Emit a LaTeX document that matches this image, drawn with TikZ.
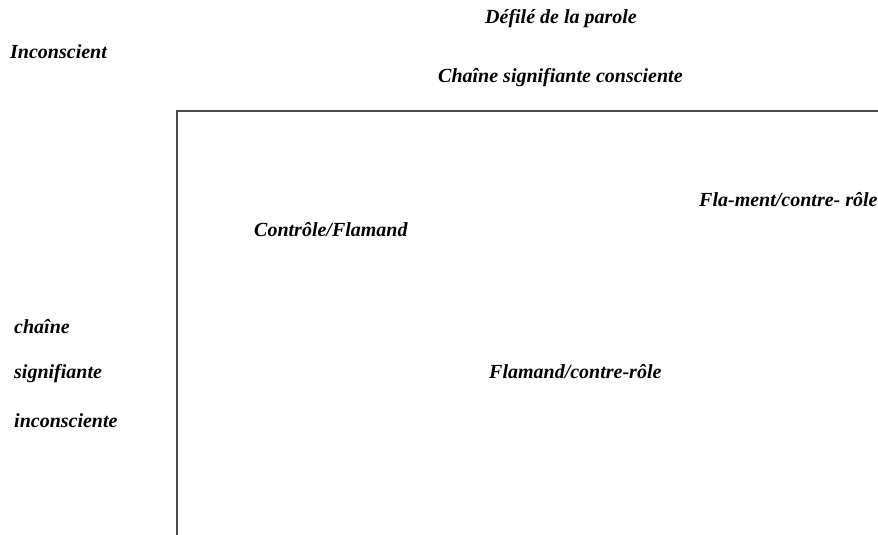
\documentclass[tikz,border=0pt]{standalone}
\usepackage{fontspec}
\setmainfont{Liberation Serif}
\begin{document}
\begin{tikzpicture}[x=1pt,y=-1pt,
  lbl/.style={font=\fontsize{20}{22}\selectfont\bfseries\itshape, inner sep=0pt, anchor=west},
  frame/.style={draw=black!70, line width=1.3pt}]
\useasboundingbox (0,0) rectangle (878,535);
\node[lbl] (defile) at (485,19) {Défilé de la parole};
\node[lbl] (incons) at (10,52) {Inconscient};
\node[lbl] (chcons) at (438,78) {Chaîne signifiante consciente};
\node[lbl] (flament) at (699,200) {Fla-ment/contre- rôle};
\node[lbl] (controle) at (254,230) {Contrôle/Flamand};
\node[lbl] (ch1) at (14,327) {chaîne};
\node[lbl] (ch2) at (14,374) {signifiante};
\node[lbl] (ch3) at (14,421) {inconsciente};
\node[lbl] (flamand) at (489,372) {Flamand/contre-rôle};
\coordinate (corner) at (177,111);
\coordinate (right) at (878,111);
\coordinate (bottom) at (177,535);
\draw[frame] (right) -- (corner) -- (bottom);
\end{tikzpicture}
\end{document}
